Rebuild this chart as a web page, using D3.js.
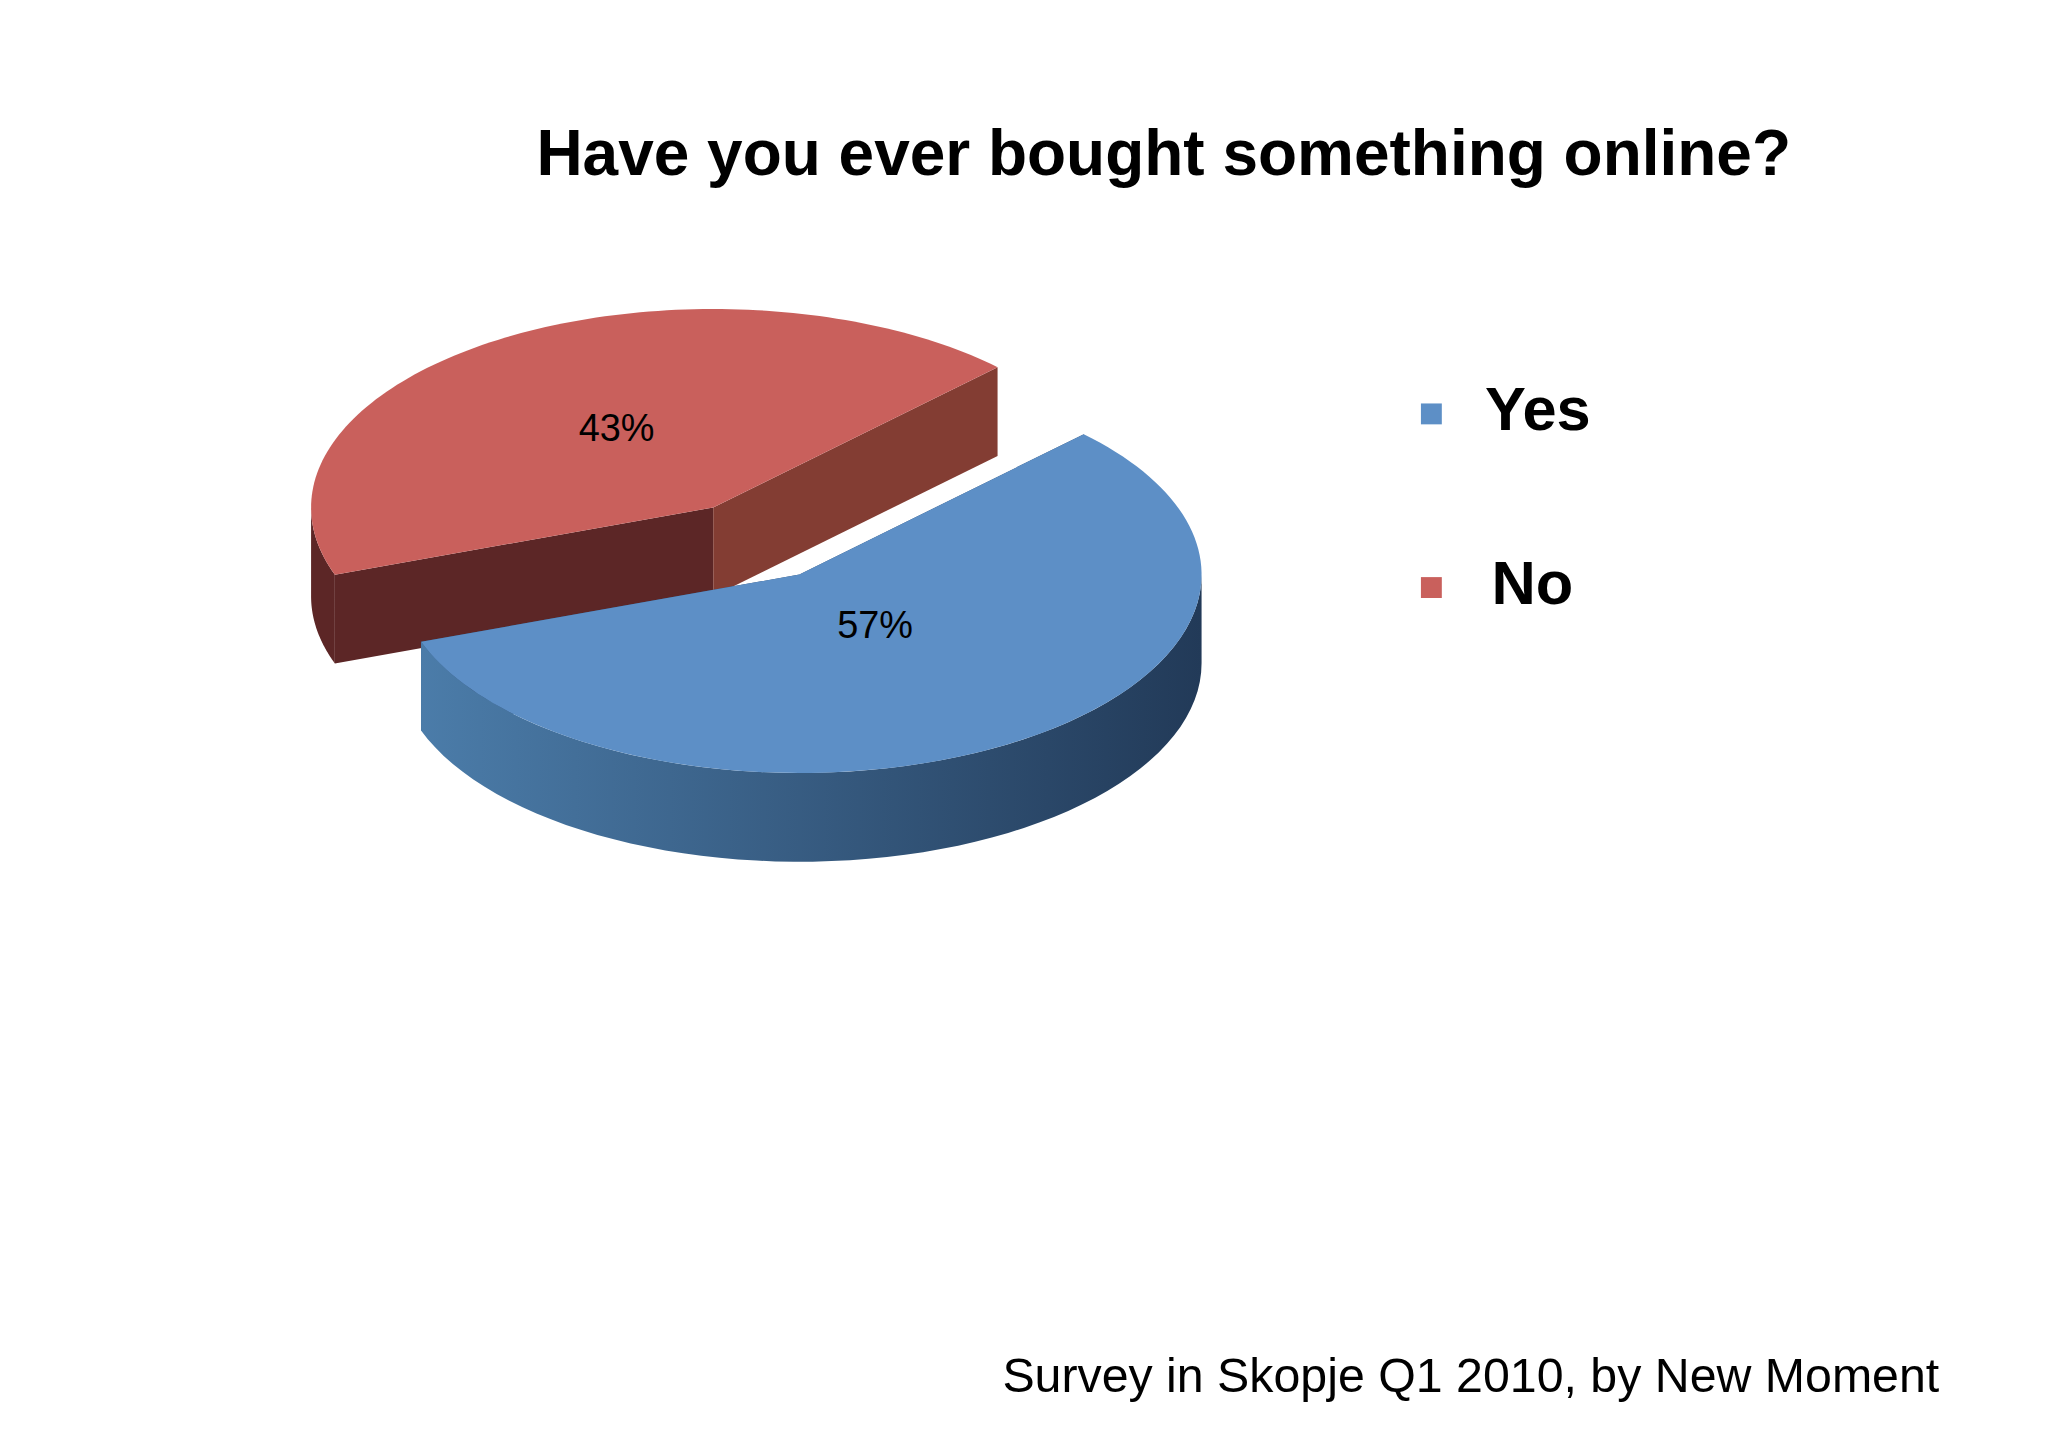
<!DOCTYPE html>
<html><head><meta charset="utf-8">
<script src="https://cdn.jsdelivr.net/npm/d3@7"></script>
<style>body{margin:0;background:#fff}</style></head>
<body><svg id="c" width="2048" height="1448" viewBox="0 0 1568 1109"></svg>
<script>
const categories = ['Yes', 'No']
const values = [57, 43]
const colors = ['#5d8fc6', '#c9605c']
const wallLeft = ['#4b7ca9', '#5c2626']
const wallRight = ['#223a58', '#5c2626']
const cutStart = ['#2f4e72', '#5c2626']
const cutEnd = ['#2f4e72', '#833d33']

const svg = d3.select('#c')
const cx = 612, cy = 440, rx = 308, ry = 152, depth = 68
const pie = d3.pie().sort(null).startAngle(45 * Math.PI / 180).endAngle(405 * Math.PI / 180)
const arcs = pie(values)

const defs = svg.append('defs')
categories.forEach((c, i) => {
  const g = defs.append('linearGradient').attr('id', 'wall' + i)
  g.append('stop').attr('offset', '0%').attr('stop-color', wallLeft[i])
  g.append('stop').attr('offset', '100%').attr('stop-color', wallRight[i])
})

const pt = (t, ox, oy) => [ox + rx * Math.cos(t), oy + ry * Math.sin(t)]
const line = d3.line()

// red (exploded) first, then blue on top
;[1, 0].forEach(i => {
  const a = arcs[i]
  const t0 = a.startAngle - Math.PI / 2, t1 = a.endAngle - Math.PI / 2
  const mid = (t0 + t1) / 2
  const k = i === 1 ? 0.4 : 0
  const ox = cx + Math.cos(mid) * k * rx, oy = cy + Math.sin(mid) * k * ry
  const g = svg.append('g')
  const v = [ox, oy]
  // cut faces
  ;[t0, t1].forEach(t => {
    const e = pt(t, ox, oy)
    g.append('path')
      .attr('d', line([v, e, [e[0], e[1] + depth], [v[0], v[1] + depth]]) + 'Z')
      .attr('fill', t === t0 ? cutStart[i] : cutEnd[i])
  })
  // outer wall, only the front half
  const norm = t => { while (t < 0) t += 2 * Math.PI; while (t >= 2 * Math.PI) t -= 2 * Math.PI; return t }
  const s = norm(t0), e = s + (t1 - t0)
  ;[[Math.max(s, 0), Math.min(e, Math.PI)], [Math.max(s, 2 * Math.PI), Math.min(e, 3 * Math.PI)]].forEach(([p, q]) => {
    if (q <= p) return
    const top = d3.range(0, 61).map(j => pt(p + (q - p) * j / 60, ox, oy))
    const bot = top.slice().reverse().map(d => [d[0], d[1] + depth])
    g.append('path').attr('d', line(top.concat(bot)) + 'Z').attr('fill', 'url(#wall' + i + ')')
  })
  // top face
  const rim = d3.range(0, 121).map(j => pt(t0 + (t1 - t0) * j / 120, ox, oy))
  g.append('path').attr('d', line([v].concat(rim)) + 'Z').attr('fill', colors[i])
  const lp = i === 1 ? [472, 330] : [670, 481]
  g.append('text').attr('x', lp[0]).attr('y', lp[1]).attr('text-anchor', 'middle')
    .attr('dominant-baseline', 'middle').attr('font-family', 'Liberation Sans, Arial')
    .attr('font-size', 29).text(values[i] + '%')
})

svg.append('text').attr('x', 891).attr('y', 134).attr('text-anchor', 'middle')
  .attr('font-family', 'Liberation Sans, Arial').attr('font-weight', 'bold').attr('font-size', 49)
  .text('Have you ever bought something online?')

const legY = [317, 450]
categories.forEach((c, i) => {
  svg.append('rect').attr('x', 1088).attr('y', legY[i] - 8).attr('width', 16).attr('height', 16).attr('fill', colors[i])
  svg.append('text').attr('x', i === 0 ? 1137 : 1142).attr('y', legY[i]).attr('dominant-baseline', 'middle')
    .attr('font-family', 'Liberation Sans, Arial').attr('font-weight', 'bold').attr('font-size', 47).text(c)
})

svg.append('text').attr('x', 1485).attr('y', 1066).attr('text-anchor', 'end')
  .attr('font-family', 'Liberation Sans, Arial').attr('font-size', 37)
  .text('Survey in Skopje Q1 2010, by New Moment')
</script></body></html>
